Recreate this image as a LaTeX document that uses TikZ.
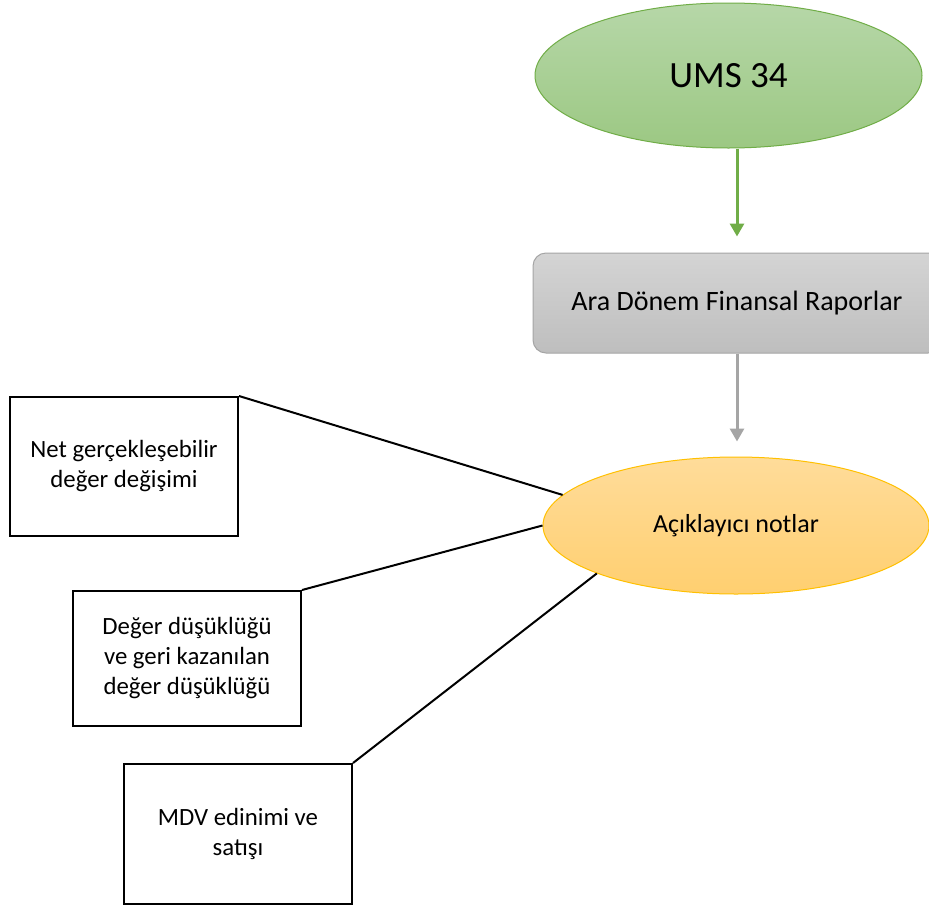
\documentclass[tikz,border=0pt]{standalone}
\usepackage{fontspec}
\setmainfont{Carlito}
\usetikzlibrary{shapes.geometric,arrows.meta}
\definecolor{gborder}{HTML}{70AD47}
\definecolor{gtop}{HTML}{B6D7A8}
\definecolor{gbot}{HTML}{9CC883}
\definecolor{graybd}{HTML}{A5A5A5}
\definecolor{graytop}{HTML}{D4D4D4}
\definecolor{graybot}{HTML}{BEBEBE}
\definecolor{oborder}{HTML}{FFC000}
\definecolor{otop}{HTML}{FFDC9A}
\definecolor{obot}{HTML}{FFCF70}
\begin{document}
\begin{tikzpicture}[x=1pt,y=-1pt,
  greenell/.style={ellipse, draw=gborder, line width=1pt, top color=gtop, bottom color=gbot,
    minimum width=387pt, minimum height=145pt, inner sep=0pt, font=\fontsize{37}{42}\selectfont},
  graybox/.style={rectangle, rounded corners=13pt, draw=graybd, line width=1pt, top color=graytop, bottom color=graybot,
    minimum width=408pt, minimum height=100pt, inner sep=0pt, font=\fontsize{28}{32}\selectfont},
  orell/.style={ellipse, draw=oborder, line width=1pt, top color=otop, bottom color=obot,
    minimum width=386pt, minimum height=137pt, inner sep=0pt, font=\fontsize{26}{30}\selectfont},
  notebox/.style={rectangle, draw=black, line width=2pt, fill=white, minimum width=228pt,
    inner sep=0pt, align=center, font=\fontsize{24.8}{30}\selectfont},
  garrow/.style={draw=gborder, line width=3pt, -{Triangle[length=13pt,width=14pt]}},
  grarrow/.style={draw=graybd, line width=3pt, -{Triangle[length=13pt,width=14pt]}},
  link/.style={draw=black, line width=2pt}
]
\clip (0,0) rectangle (929,908);
\fill[white] (0,0) rectangle (929,908);

\node[greenell] (ums) at (728.5,75.5) {UMS 34};
\node[graybox] (ara) at (737,303) {Ara Dönem Finansal Raporlar};
\node[orell] (notes) at (736,525.5) {Açıklayıcı notlar};

\node[notebox, minimum height=139pt] (b1) at (124,466.5) {Net gerçekleşebilir\\değer değişimi};
\node[notebox, minimum height=135pt] (b2) at (187,658.5) {Değer düşüklüğü\\ve geri kazanılan\\değer düşüklüğü};
\node[notebox, minimum height=140pt] (b3) at (238,834) {MDV edinimi ve\\satışı};

\draw[garrow, shorten >=16pt] (ums.south -| ara.north) -- (ara.north);
\draw[grarrow, shorten >=15pt] (ara.south) -- (ara.south |- notes.north);

\draw[link] (b1.north east) -- (notes.170.6);
\draw[link] (b2.north east) -- (notes.180);
\draw[link] (b3.north east) -- (notes.199.8);
\end{tikzpicture}
\end{document}
